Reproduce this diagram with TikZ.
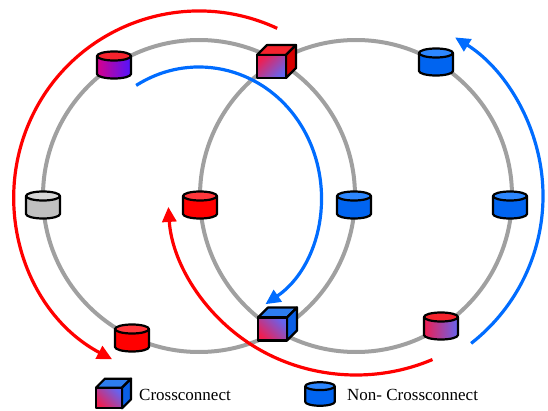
\documentclass[tikz,border=0pt]{standalone}
\usepackage{fontspec}
\setmainfont{Liberation Serif}
\usetikzlibrary{arrows.meta, calc}
\definecolor{ringGray}{RGB}{160,160,160}
\definecolor{pathRed}{RGB}{255,0,0}
\definecolor{pathBlue}{RGB}{0,108,255}
\definecolor{drumBlue}{RGB}{0,100,240}
\definecolor{drumBlueTop}{RGB}{45,135,255}
\definecolor{drumRed}{RGB}{255,0,0}
\definecolor{drumRedTop}{RGB}{255,55,60}
\definecolor{drumGray}{RGB}{192,192,192}
\definecolor{drumGrayTop}{RGB}{215,215,215}
\definecolor{xcPink}{RGB}{240,30,80}
\definecolor{xcViolet}{RGB}{100,100,240}
\definecolor{xcMagenta}{RGB}{215,0,140}
\definecolor{xcPurple}{RGB}{80,20,255}
\definecolor{lidRed}{RGB}{245,35,45}
\definecolor{sideRed}{RGB}{215,0,0}
\definecolor{lidBlue}{RGB}{45,125,240}
\definecolor{sideBlue}{RGB}{10,95,230}

% drum: [scale] name, position, body fill, lid colour
\newcommand{\drum}[5][1]{%
  \begin{scope}[shift={(#3)}, scale=#1]
    \coordinate (#2) at (0,0);
    \path[#4] (-17,9) -- (-17,-9) arc[start angle=180, end angle=360, x radius=17, y radius=4.5] -- (17,9) -- cycle;
    \fill[#5] (0,9) ellipse[x radius=17, y radius=4.5];
    \draw[outline] (-17,9) -- (-17,-9) arc[start angle=180, end angle=360, x radius=17, y radius=4.5] -- (17,9);
    \draw[outline] (0,9) ellipse[x radius=17, y radius=4.5];
  \end{scope}}

% crate: [scale] name, position, front shading, lid colour, side colour
\newcommand{\crate}[6][1]{%
  \begin{scope}[shift={(#3)}, scale=#1]
    \coordinate (#2) at (0,0);
    \filldraw[outline, fill=#5] (-14.5,11.5) -- (-4.5,21.5) -- (24.5,21.5) -- (14.5,11.5) -- cycle;
    \filldraw[outline, fill=#6] (14.5,11.5) -- (24.5,21.5) -- (24.5,-1.5) -- (14.5,-11.5) -- cycle;
    \shadedraw[outline, #4] (-14.5,-11.5) rectangle (14.5,11.5);
  \end{scope}}

\begin{document}
\begin{tikzpicture}[x=1pt, y=1pt]
        \tikzstyle{ring} = [draw=ringGray, line width=4pt]
        \tikzstyle{outline} = [draw=black, line width=2.2pt, line join=round]
        \tikzstyle{flow} = [line width=3.2pt, -{Triangle[length=15pt, width=14pt]}]
        \tikzstyle{legend} = [anchor=base west, inner sep=0pt, font=\fontsize{17}{20}\selectfont]
        \tikzstyle{xcUp} = [top color=xcPink, bottom color=xcViolet, shading angle=45]
        \tikzstyle{xcDown} = [top color=xcViolet, bottom color=xcPink, shading angle=-45]

        \useasboundingbox (0,0) rectangle (548,410);

        % the two rings
        \coordinate (westRing) at (199,214);
        \coordinate (eastRing) at (356,214);
        \draw[ring] (westRing) circle[radius=156];
        \draw[ring] (eastRing) circle[radius=156];

        % red paths
        \coordinate (redFrom) at ($(westRing)+(65:185)$);
        \draw[flow, pathRed] (redFrom) arc[start angle=65, end angle=242, radius=185];
        \coordinate (redBack) at ($(eastRing)+({188*cos(-66)},{179*sin(-66)})$);
        \draw[flow, pathRed] (redBack) arc[start angle=-66, end angle=-176.5, x radius=188, y radius=179];

        % blue paths
        \coordinate (blueFrom) at ($(westRing)+({122*cos(121)},{129*sin(121)})$);
        \draw[flow, pathBlue] (blueFrom) arc[start angle=121, end angle=-57, x radius=122, y radius=129];
        \coordinate (blueBack) at ($(eastRing)+(-52:187)$);
        \draw[flow, pathBlue] (blueBack) arc[start angle=-52, end angle=58, radius=187];

        % west ring
        \drum{nwDrum}{114,345}{left color=xcMagenta, right color=xcPurple}{lidRed}
        \drum{wDrum}{43,205}{fill=drumGray}{drumGrayTop}
        \drum{swDrum}{132,72}{fill=drumRed}{drumRedTop}
        \drum{midRed}{200,205}{fill=drumRed}{drumRedTop}
        \drum{midBlue}{354,205}{fill=drumBlue}{drumBlueTop}

        % east ring
        \drum{neDrum}{436,348}{fill=drumBlue}{drumBlueTop}
        \drum{eDrum}{510,205}{fill=drumBlue}{drumBlueTop}
        \drum{seDrum}{441,84}{left color=xcPink, right color=xcViolet}{lidRed}

        % crossconnects where the rings meet
        \crate{topXc}{271.5,343.5}{xcUp}{lidRed}{sideRed}
        \crate{botXc}{272.5,81}{xcDown}{lidBlue}{sideBlue}

        % legend
        \crate[0.9]{keyXc}{109,12}{xcDown}{lidBlue}{sideBlue}
        \node[legend] (keyXcText) at (139,10) {Crossconnect};
        \drum[0.87]{keyDrum}{320,16}{fill=drumBlue}{drumBlueTop}
        \node[legend] (keyDrumText) at (347,10) {Non- Crossconnect};
\end{tikzpicture}
\end{document}
